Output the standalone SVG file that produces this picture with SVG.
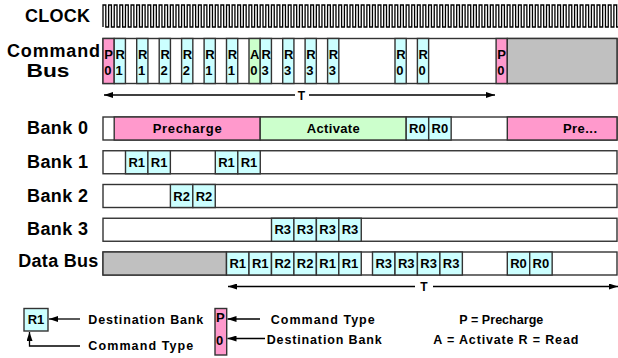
<svg xmlns="http://www.w3.org/2000/svg" width="618" height="358" viewBox="0 0 618 358">
<defs>
<style>
.lbl{font-family:"Liberation Sans",Arial,sans-serif;font-weight:bold;font-size:18px;fill:#000}
.c{stroke:#333;stroke-width:1.4}
.cy{fill:#CCFFFF}.pk{fill:#FF99CC}.gr{fill:#CCFFCC}.gy{fill:#C0C0C0}.wh{fill:#FFFFFF}
.ct{font-family:"Liberation Sans",Arial,sans-serif;font-weight:bold;font-size:13px;fill:#000;text-anchor:middle}
.cm{font-family:"Liberation Sans",Arial,sans-serif;font-weight:bold;font-size:13px;fill:#000}
.lg{font-family:"Liberation Sans",Arial,sans-serif;font-weight:bold;font-size:12.5px;fill:#000}
.tl{font-family:"Liberation Sans",Arial,sans-serif;font-weight:bold;font-size:12px;fill:#000;text-anchor:middle}
.ln{stroke:#000;stroke-width:1.3;fill:none}
</style>
<marker id="ah" viewBox="0 0 9 6" refX="9" refY="3" markerWidth="9" markerHeight="6" markerUnits="userSpaceOnUse" orient="auto">
<path d="M0,0 L9,3 L0,6 z" fill="#000"/>
</marker>
</defs>
<rect width="618" height="358" fill="#fff"/>

<g id="clock">
<text class="lbl" x="25" y="21.5" textLength="65">CLOCK</text>
<path class="ln" stroke-width="1.2" d="M103,27V5h2.807V27h2.807V5h2.807V27h2.807V5h2.807V27h2.807V5h2.807V27h2.807V5h2.807V27h2.807V5h2.807V27h2.807V5h2.807V27h2.807V5h2.807V27h2.807V5h2.807V27h2.807V5h2.807V27h2.807V5h2.807V27h2.807V5h2.807V27h2.807V5h2.807V27h2.807V5h2.807V27h2.807V5h2.807V27h2.807V5h2.807V27h2.807V5h2.807V27h2.807V5h2.807V27h2.807V5h2.807V27h2.807V5h2.807V27h2.807V5h2.807V27h2.807V5h2.807V27h2.807V5h2.807V27h2.807V5h2.807V27h2.807V5h2.807V27h2.807V5h2.807V27h2.807V5h2.807V27h2.807V5h2.807V27h2.807V5h2.807V27h2.807V5h2.807V27h2.807V5h2.807V27h2.807V5h2.807V27h2.807V5h2.807V27h2.807V5h2.807V27h2.807V5h2.807V27h2.807V5h2.807V27h2.807V5h2.807V27h2.807V5h2.807V27h2.807V5h2.807V27h2.807V5h2.807V27h2.807V5h2.807V27h2.807V5h2.807V27h2.807V5h2.807V27h2.807V5h2.807V27h2.807V5h2.807V27h2.807V5h2.807V27h2.807V5h2.807V27h2.807V5h2.807V27h2.807V5h2.807V27h2.807V5h2.807V27h2.807V5h2.807V27h2.807V5h2.807V27h2.807V5h2.807V27h2.807V5h2.807V27h2.807V5h2.807V27h2.807V5h2.807V27h2.807V5h2.807V27h2.807V5h2.807V27h2.807V5h2.807V27h2.807V5h2.807V27h2.807V5h2.807V27h2.807V5h2.807V27h2.807V5h2.807V27h2.807V5h2.807V27h2.807V5h2.807V27h2.807V5h2.807V27h2.807V5h2.807V27h2.807V5h2.807V27h2.807V5h2.807V27h2.807V5h2.807V27h2.807V5h2.807V27h2.807V5h2.807V27h2.807V5h2.807V27h2.807V5h2.807V27h2.807V5h2.807V27h2.807V5h2.807V27h2.807V5h2.807V27h2.807V5h2.807V27h2.807V5h2.807V27h2.807V5h2.807V27h2.807V5h2.807V27h2.807V5h2.807V27h2.807V5h2.807V27h2.807V5h2.807V27h2.807V5h2.807V27h2.807V5h2.807V27h2.807V5h2.807V27h2.807V5h2.807V27h2.807V5h2.807V27h2.807V5h2.807V27h2.807V5h2.807V27h2.807V5h2.807V27h2.807"/>
</g>

<g id="command-bus">
<text class="lbl" x="7" y="56.7" textLength="93">Command</text>
<text class="lbl" x="26.5" y="77.3" font-size="20" textLength="43" lengthAdjust="spacingAndGlyphs">Bus</text>
<rect class="c wh" x="103" y="38.5" width="514" height="45"/>
<rect class="c pk" x="103" y="38.5" width="11.23" height="45"/>
<rect class="c cy" x="114.2" y="38.5" width="11.23" height="45"/>
<rect class="c cy" x="136.7" y="38.5" width="11.23" height="45"/>
<rect class="c cy" x="159.2" y="38.5" width="11.23" height="45"/>
<rect class="c cy" x="181.6" y="38.5" width="11.23" height="45"/>
<rect class="c cy" x="204.1" y="38.5" width="11.23" height="45"/>
<rect class="c cy" x="226.5" y="38.5" width="11.23" height="45"/>
<rect class="c gr" x="249" y="38.5" width="11.23" height="45"/>
<rect class="c cy" x="260.2" y="38.5" width="11.23" height="45"/>
<rect class="c cy" x="282.7" y="38.5" width="11.23" height="45"/>
<rect class="c cy" x="305.1" y="38.5" width="11.23" height="45"/>
<rect class="c cy" x="327.6" y="38.5" width="11.23" height="45"/>
<rect class="c cy" x="395" y="38.5" width="11.23" height="45"/>
<rect class="c cy" x="417.4" y="38.5" width="11.23" height="45"/>
<rect class="c pk" x="496.1" y="38.5" width="11.23" height="45"/>
<rect class="c gy" x="507.3" y="38.5" width="109.7" height="45"/>
<text class="cm" x="104.2" y="58.5">P</text><text class="cm" x="104.2" y="75">0</text>
<text class="cm" x="115.4" y="58.5">R</text><text class="cm" x="115.4" y="75">1</text>
<text class="cm" x="137.9" y="58.5">R</text><text class="cm" x="137.9" y="75">1</text>
<text class="cm" x="160.4" y="58.5">R</text><text class="cm" x="160.4" y="75">2</text>
<text class="cm" x="182.8" y="58.5">R</text><text class="cm" x="182.8" y="75">2</text>
<text class="cm" x="205.3" y="58.5">R</text><text class="cm" x="205.3" y="75">1</text>
<text class="cm" x="227.7" y="58.5">R</text><text class="cm" x="227.7" y="75">1</text>
<text class="cm" x="250" y="58.5">A</text><text class="cm" x="250.2" y="75">0</text>
<text class="cm" x="261.4" y="58.5">R</text><text class="cm" x="261.4" y="75">3</text>
<text class="cm" x="283.9" y="58.5">R</text><text class="cm" x="283.9" y="75">3</text>
<text class="cm" x="306.3" y="58.5">R</text><text class="cm" x="306.3" y="75">3</text>
<text class="cm" x="328.8" y="58.5">R</text><text class="cm" x="328.8" y="75">3</text>
<text class="cm" x="396.2" y="58.5">R</text><text class="cm" x="396.2" y="75">0</text>
<text class="cm" x="418.6" y="58.5">R</text><text class="cm" x="418.6" y="75">0</text>
<text class="cm" x="497.3" y="58.5">P</text><text class="cm" x="497.3" y="75">0</text>
</g>

<g id="bank0">
<text class="lbl" x="27" y="134.3" textLength="61">Bank 0</text>
<rect class="c wh" x="103" y="117" width="514" height="23"/>
<rect class="c pk" x="114.2" y="117" width="146" height="23"/>
<rect class="c gr" x="260.2" y="117" width="146" height="23"/>
<rect class="c cy" x="406.2" y="117" width="22.46" height="23"/>
<rect class="c cy" x="428.7" y="117" width="22.46" height="23"/>
<rect class="c pk" x="507.3" y="117" width="109.7" height="23"/>
<text class="ct" x="187.2" y="133" textLength="69">Precharge</text>
<text class="ct" x="333.2" y="133" textLength="53">Activate</text>
<text class="ct" x="417.4" y="133">R0</text>
<text class="ct" x="439.9" y="133">R0</text>
<text class="ct" x="580" y="133" textLength="34">Pre...</text>
</g>

<g id="bank1">
<text class="lbl" x="27" y="168.3" textLength="61">Bank 1</text>
<rect class="c wh" x="103" y="150.75" width="514" height="23"/>
<rect class="c cy" x="125.5" y="150.75" width="22.46" height="23"/>
<rect class="c cy" x="147.9" y="150.75" width="22.46" height="23"/>
<rect class="c cy" x="215.3" y="150.75" width="22.46" height="23"/>
<rect class="c cy" x="237.8" y="150.75" width="22.46" height="23"/>
<text class="ct" x="136.7" y="166.75">R1</text>
<text class="ct" x="159.1" y="166.75">R1</text>
<text class="ct" x="226.5" y="166.75">R1</text>
<text class="ct" x="249" y="166.75">R1</text>
</g>

<g id="bank2">
<text class="lbl" x="27" y="201.8" textLength="61">Bank 2</text>
<rect class="c wh" x="103" y="184.5" width="514" height="23"/>
<rect class="c cy" x="170.4" y="184.5" width="22.46" height="23"/>
<rect class="c cy" x="192.8" y="184.5" width="22.46" height="23"/>
<text class="ct" x="181.6" y="200.5">R2</text>
<text class="ct" x="204" y="200.5">R2</text>
</g>

<g id="bank3">
<text class="lbl" x="27" y="235.3" textLength="61">Bank 3</text>
<rect class="c wh" x="103" y="218.25" width="514" height="23"/>
<rect class="c cy" x="271.5" y="218.25" width="22.46" height="23"/>
<rect class="c cy" x="293.9" y="218.25" width="22.46" height="23"/>
<rect class="c cy" x="316.4" y="218.25" width="22.46" height="23"/>
<rect class="c cy" x="338.8" y="218.25" width="22.46" height="23"/>
<text class="ct" x="282.7" y="234.25">R3</text>
<text class="ct" x="305.1" y="234.25">R3</text>
<text class="ct" x="327.6" y="234.25">R3</text>
<text class="ct" x="350" y="234.25">R3</text>
</g>

<g id="data-bus">
<text class="lbl" x="18.3" y="266.8" textLength="80">Data Bus</text>
<rect class="c wh" x="103" y="252" width="514" height="23"/>
<rect class="c gy" x="103" y="252" width="123.5" height="23"/>
<rect class="c cy" x="226.5" y="252" width="22.46" height="23"/>
<rect class="c cy" x="249" y="252" width="22.46" height="23"/>
<rect class="c cy" x="271.5" y="252" width="22.46" height="23"/>
<rect class="c cy" x="293.9" y="252" width="22.46" height="23"/>
<rect class="c cy" x="316.4" y="252" width="22.46" height="23"/>
<rect class="c cy" x="338.8" y="252" width="22.46" height="23"/>
<rect class="c cy" x="372.5" y="252" width="22.46" height="23"/>
<rect class="c cy" x="395" y="252" width="22.46" height="23"/>
<rect class="c cy" x="417.4" y="252" width="22.46" height="23"/>
<rect class="c cy" x="439.9" y="252" width="22.46" height="23"/>
<rect class="c cy" x="507.3" y="252" width="22.46" height="23"/>
<rect class="c cy" x="529.7" y="252" width="22.46" height="23"/>
<text class="ct" x="237.7" y="268">R1</text>
<text class="ct" x="260.2" y="268">R1</text>
<text class="ct" x="282.7" y="268">R2</text>
<text class="ct" x="305.1" y="268">R2</text>
<text class="ct" x="327.6" y="268">R1</text>
<text class="ct" x="350" y="268">R1</text>
<text class="ct" x="383.7" y="268">R3</text>
<text class="ct" x="406.2" y="268">R3</text>
<text class="ct" x="428.6" y="268">R3</text>
<text class="ct" x="451.1" y="268">R3</text>
<text class="ct" x="518.5" y="268">R0</text>
<text class="ct" x="540.9" y="268">R0</text>
</g>

<g id="legend-read">
<rect class="c cy" x="24" y="308.5" width="24" height="22.5"/>
<text class="ct" x="36" y="324.3">R1</text>
<text class="lg" x="88.3" y="323.5" textLength="115">Destination Bank</text>
<text class="lg" x="88.3" y="350" textLength="105">Command Type</text>
</g>

<g id="legend-precharge">
<rect class="c pk" x="215" y="308.5" width="11.7" height="46.5"/>
<text class="cm" x="216" y="321.5">P</text>
<text class="cm" x="216" y="345">0</text>
<text class="lg" x="270.7" y="323.5" textLength="104">Command Type</text>
<text class="lg" x="266.7" y="344" textLength="115">Destination Bank</text>
</g>

<g id="legend-key">
<text class="lg" x="501.3" y="324" text-anchor="middle" textLength="84">P = Precharge</text>
<text class="lg" x="505.8" y="344" text-anchor="middle" textLength="145">A = Activate R = Read</text>
</g>

<g id="connectors">
<line class="ln" x1="295" y1="95" x2="104" y2="95" marker-end="url(#ah)"/>
<line class="ln" x1="309" y1="95" x2="495" y2="95" marker-end="url(#ah)"/>
<text class="tl" x="301.5" y="99.5">T</text>
<line class="ln" x1="415" y1="286.5" x2="228" y2="286.5" marker-end="url(#ah)"/>
<line class="ln" x1="433" y1="286.5" x2="618" y2="286.5" marker-end="url(#ah)"/>
<text class="tl" x="424" y="290.5">T</text>
<line class="ln" x1="80" y1="319" x2="49" y2="319" marker-end="url(#ah)"/>
<path class="ln" d="M80,346 H29.5 V332" marker-end="url(#ah)"/>
<line class="ln" x1="260" y1="319" x2="227.5" y2="319" marker-end="url(#ah)"/>
<line class="ln" x1="265" y1="338.5" x2="227.5" y2="338.5" marker-end="url(#ah)"/>
</g>
</svg>
